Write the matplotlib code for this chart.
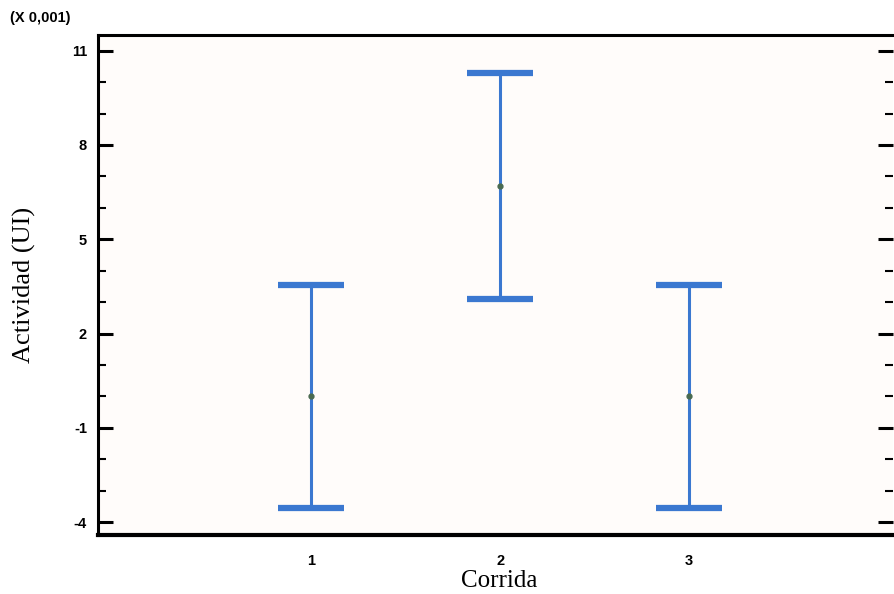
import numpy as np
import matplotlib
matplotlib.use('Agg')
import matplotlib.pyplot as plt
from matplotlib.ticker import MultipleLocator

corridas = [1, 2, 3]
medias = [0.0, 6.7, 0.0]          # x 0,001
semi = [3.55, 3.6, 3.55]          # semiamplitud del intervalo
yticks = [-4, -1, 2, 5, 8, 11]

fig = plt.figure(figsize=(8.94, 5.94), dpi=100)
fig.patch.set_facecolor('white')
ax = fig.add_axes([98/894, 1-535/594, 1.0 - 98/894 - 0.001, (535-35)/594])
ax.set_facecolor('#fffcfa')

ax.errorbar(corridas, medias, yerr=semi, fmt='none', ecolor='#3b78d0',
            elinewidth=2.2, capsize=24, capthick=4.5, zorder=3)
ax.plot(corridas, medias, 'o', color='#4a6a50', ms=3.5, zorder=4)

ax.set_xlim(-0.127, 4.079)
ax.set_ylim(-4.41, 11.5)
ax.set_xticks(corridas)
ax.set_yticks(yticks)
ax.yaxis.set_minor_locator(MultipleLocator(1))

tkfont = dict(family='Liberation Sans', weight='bold', size=10.5)
ax.set_xticklabels([str(c) for c in corridas], **tkfont)
ax.set_yticklabels([str(t) for t in yticks], **tkfont)
ax.tick_params(axis='y', which='major', direction='in', length=11, width=2.2,
               right=True, pad=8)
ax.tick_params(axis='y', which='minor', direction='in', length=6, width=1.5,
               right=True)
ax.tick_params(axis='x', length=0, pad=14)

for s in ['left', 'bottom', 'top']:
    ax.spines[s].set_linewidth(2.2)
ax.spines['bottom'].set_linewidth(3)
ax.spines['right'].set_visible(False)

ax.set_ylabel('Actividad (UI)', family='Liberation Serif', size=19, labelpad=26)
ax.set_xlabel('Corrida', family='Liberation Serif', size=18, va='baseline')
ax.xaxis.set_label_coords(0.505, -(587 - 535) / 500)

fig.text(10/894, 1-18/594, '(X 0,001)', family='Liberation Sans', weight='bold',
         size=10.5, va='center', ha='left')

plt.savefig('out.png', dpi=100)
